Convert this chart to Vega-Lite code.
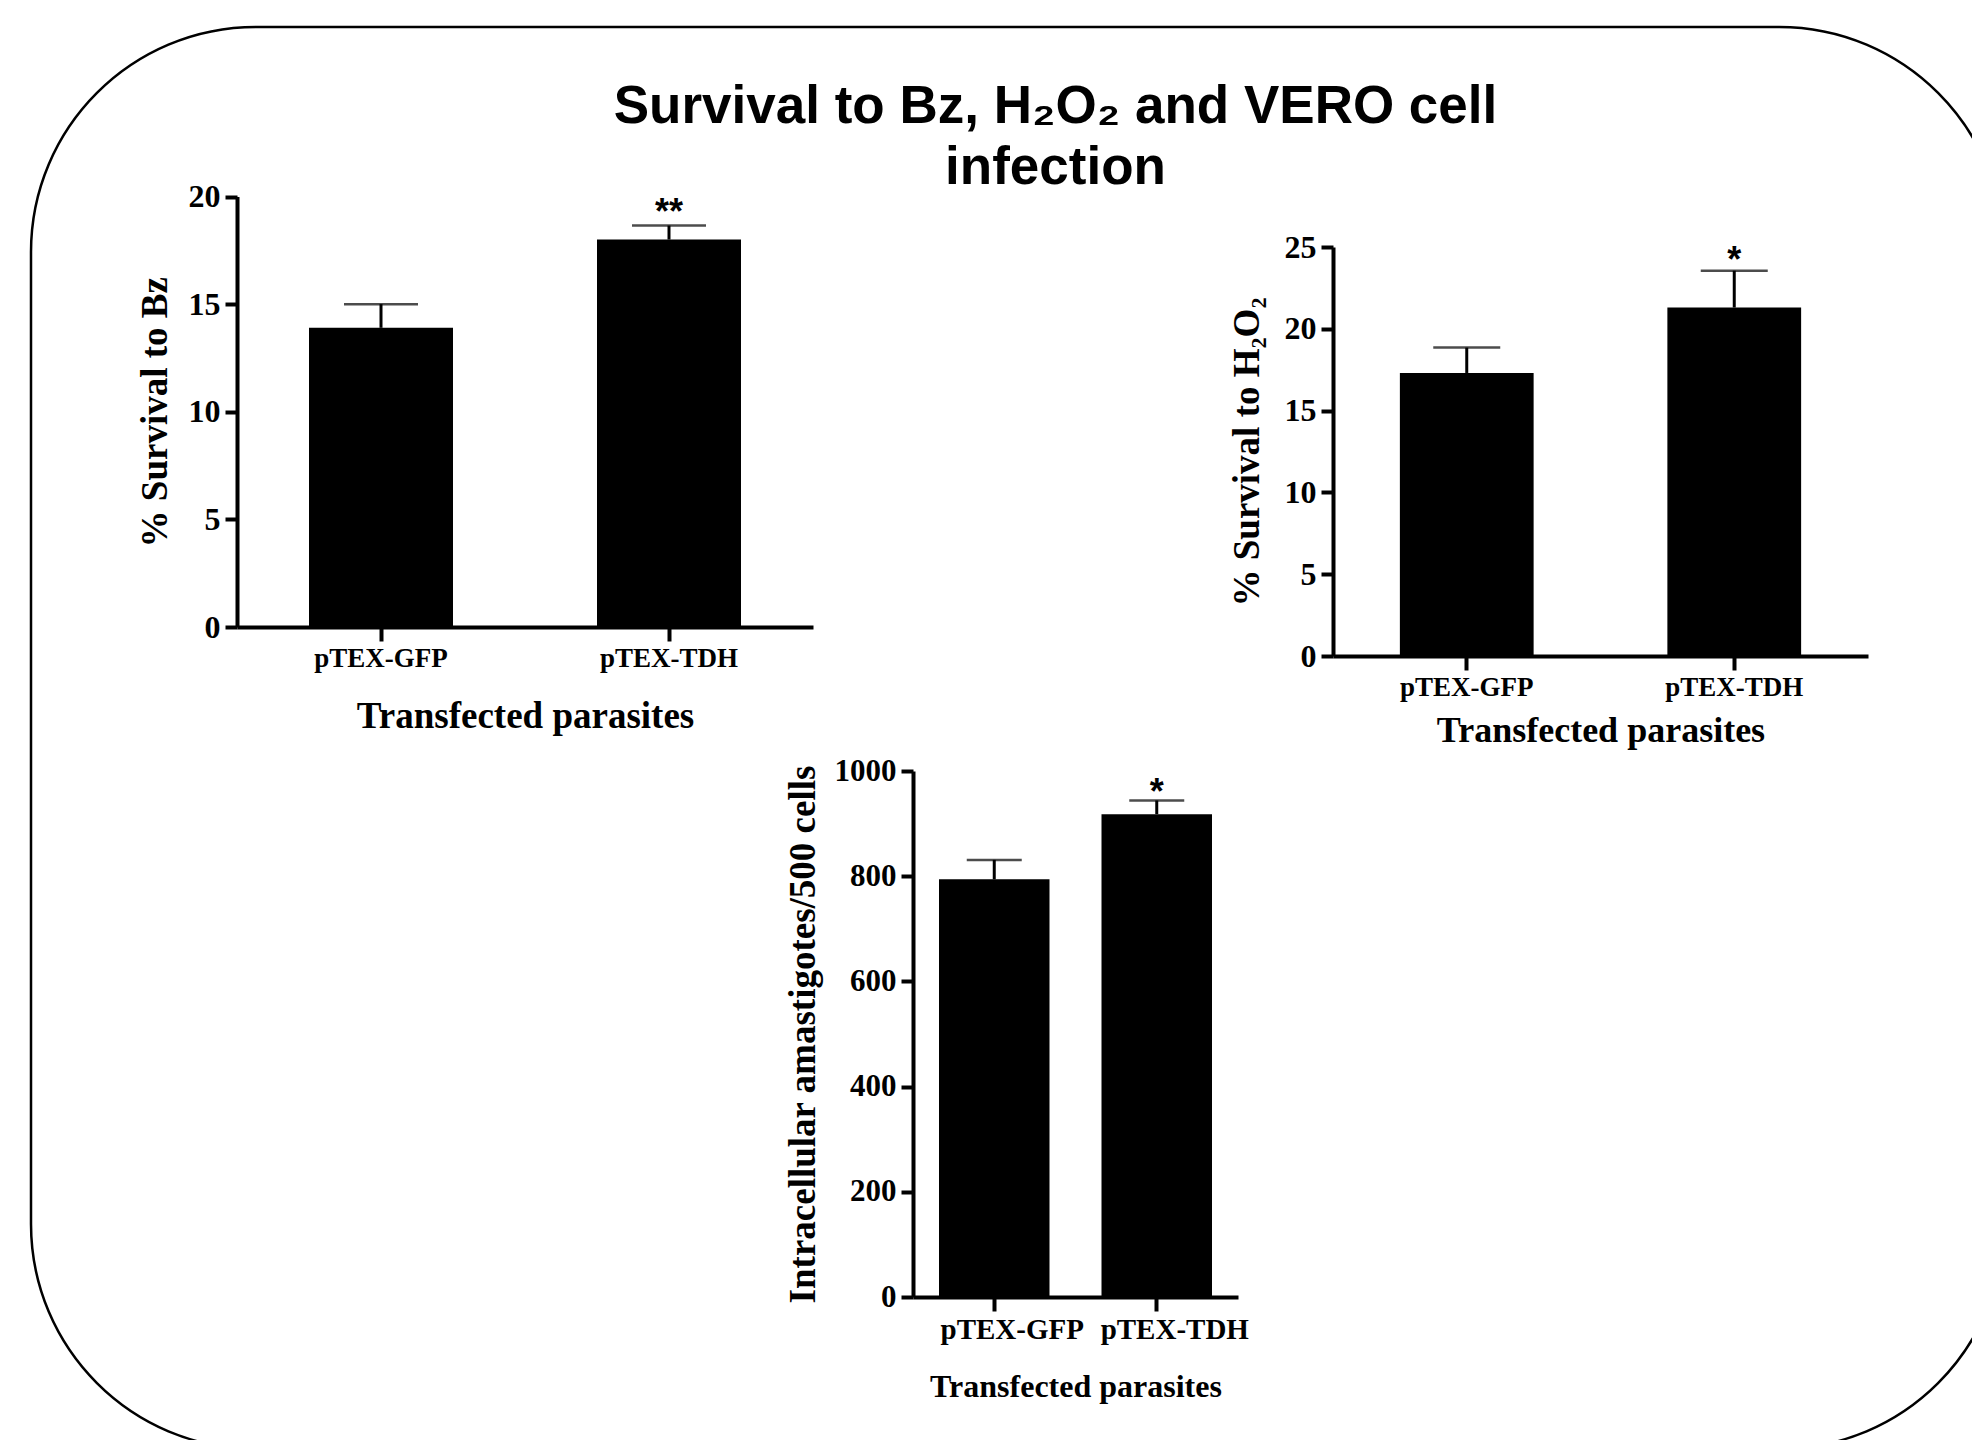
{
  "$schema": "https://vega.github.io/schema/vega-lite/v6.json",
  "padding": {"left": 31, "top": 27, "right": 0, "bottom": 0},
  "background": "#ffffff",
  "width": 1973,
  "height": 1422,
  "view": {"stroke": "#000", "strokeWidth": 2.5, "cornerRadius": 225, "fill": null},
  "config": {
    "axis": {"domainColor": "#000", "domainWidth": 4, "tickColor": "#000", "tickWidth": 4, "labelColor": "#000", "titleColor": "#000", "labelFont": "Liberation Serif", "titleFont": "Liberation Serif", "labelFontWeight": "bold", "titleFontWeight": "bold", "grid": false},
    "axisX": {"labelAngle": 0, "tickSize": 14, "labelPadding": 4},
    "axisY": {"tickSize": 12, "labelPadding": 5, "format": "d"}
  },
  "title": {"text": ["Survival to Bz, H₂O₂ and VERO cell", "infection"], "anchor": "middle", "frame": "group", "offset": -168, "dx": 38, "font": "Liberation Sans", "fontSize": 53, "fontWeight": "bold", "lineHeight": 61, "color": "#000"},
  "datasets": {
    "bz": [
      {"group": "pTEX-GFP", "mean": 13.9, "upper": 15.0, "sig": ""},
      {"group": "pTEX-TDH", "mean": 18.0, "upper": 18.65, "sig": "**"}
    ],
    "h2o2": [
      {"group": "pTEX-GFP", "mean": 17.3, "upper": 18.85, "sig": ""},
      {"group": "pTEX-TDH", "mean": 21.3, "upper": 23.55, "sig": "*"}
    ],
    "vero": [
      {"group": "pTEX-GFP", "mean": 794, "upper": 831, "sig": ""},
      {"group": "pTEX-TDH", "mean": 918, "upper": 944, "sig": "*"}
    ]
  },
  "resolve": {"scale": {"x": "independent", "y": "independent"}, "axis": {"x": "independent", "y": "independent"}},
  "layer": [
    {
      "data": {"name": "bz"},
      "encoding": {
        "x": {"field": "group", "type": "nominal", "sort": null, "scale": {"range": [206, 782], "paddingInner": 0.5, "paddingOuter": 0.25},
              "axis": {"orient": "bottom", "offset": -822, "title": "Transfected parasites", "labelFontSize": 27, "titleFontSize": 37, "titlePadding": 27}}
      },
      "layer": [
        {"mark": {"type": "bar", "color": "#000"},
         "encoding": {"y": {"field": "mean", "type": "quantitative", "title": "% Survival to Bz", "scale": {"domain": [0, 20], "nice": false, "range": [600, 169.5]},
           "axis": {"orient": "left", "offset": -206, "values": [0, 5, 10, 15, 20], "labelFontSize": 32, "titleFontSize": 37, "titlePadding": 14}}}},
        {"mark": {"type": "rule", "strokeWidth": 3, "color": "#000"},
         "encoding": {"y": {"field": "mean", "type": "quantitative", "title": "% Survival to Bz"}, "y2": {"field": "upper"}}},
        {"mark": {"type": "tick", "thickness": 2.5, "size": 74, "color": "#000"},
         "encoding": {"y": {"field": "upper", "type": "quantitative", "title": "% Survival to Bz"}}},
        {"mark": {"type": "text", "font": "Liberation Sans", "fontSize": 36, "fontWeight": "bold", "baseline": "alphabetic", "color": "#000", "dy": -2},
         "encoding": {"y": {"field": "upper", "type": "quantitative", "title": "% Survival to Bz"}, "text": {"field": "sig"}}}
      ]
    },
    {
      "data": {"name": "h2o2"},
      "encoding": {
        "x": {"field": "group", "type": "nominal", "sort": null, "scale": {"range": [1302, 1837], "paddingInner": 0.5, "paddingOuter": 0.25},
              "axis": {"orient": "bottom", "offset": -793, "title": "Transfected parasites", "labelFontSize": 27, "titleFontSize": 36, "titlePadding": 13}}
      },
      "layer": [
        {"mark": {"type": "bar", "color": "#000"},
         "encoding": {"y": {"field": "mean", "type": "quantitative", "title": "% Survival to  H₂O₂", "scale": {"domain": [0, 25], "nice": false, "range": [629, 220]},
           "axis": {"orient": "left", "offset": -1302, "values": [0, 5, 10, 15, 20, 25], "labelFontSize": 32, "titleFontSize": 37, "titlePadding": 18}}}},
        {"mark": {"type": "rule", "strokeWidth": 3, "color": "#000"},
         "encoding": {"y": {"field": "mean", "type": "quantitative", "title": "% Survival to  H₂O₂"}, "y2": {"field": "upper"}}},
        {"mark": {"type": "tick", "thickness": 2.5, "size": 67, "color": "#000"},
         "encoding": {"y": {"field": "upper", "type": "quantitative", "title": "% Survival to  H₂O₂"}}},
        {"mark": {"type": "text", "font": "Liberation Sans", "fontSize": 36, "fontWeight": "bold", "baseline": "alphabetic", "color": "#000", "dy": 1},
         "encoding": {"y": {"field": "upper", "type": "quantitative", "title": "% Survival to  H₂O₂"}, "text": {"field": "sig"}}}
      ]
    },
    {
      "data": {"name": "vero"},
      "encoding": {
        "x": {"field": "group", "type": "nominal", "sort": null, "scale": {"range": [882, 1207], "paddingInner": 0.32, "paddingOuter": 0.16},
              "axis": {"orient": "bottom", "offset": -152, "title": "Transfected parasites", "labelFontSize": 29, "labelOffset": 18, "titleFontSize": 32, "titlePadding": 27}}
      },
      "layer": [
        {"mark": {"type": "bar", "color": "#000"},
         "encoding": {"y": {"field": "mean", "type": "quantitative", "title": "Intracellular amastigotes/500 cells", "scale": {"domain": [0, 1000], "nice": false, "range": [1270, 744]},
           "axis": {"orient": "left", "offset": -882, "values": [0, 200, 400, 600, 800, 1000], "labelFontSize": 31, "titleFontSize": 37, "titlePadding": 12}}}},
        {"mark": {"type": "rule", "strokeWidth": 3, "color": "#000"},
         "encoding": {"y": {"field": "mean", "type": "quantitative", "title": "Intracellular amastigotes/500 cells"}, "y2": {"field": "upper"}}},
        {"mark": {"type": "tick", "thickness": 2.5, "size": 55, "color": "#000"},
         "encoding": {"y": {"field": "upper", "type": "quantitative", "title": "Intracellular amastigotes/500 cells"}}},
        {"mark": {"type": "text", "font": "Liberation Sans", "fontSize": 36, "fontWeight": "bold", "baseline": "alphabetic", "color": "#000", "dy": 4},
         "encoding": {"y": {"field": "upper", "type": "quantitative", "title": "Intracellular amastigotes/500 cells"}, "text": {"field": "sig"}}}
      ]
    }
  ]
}
